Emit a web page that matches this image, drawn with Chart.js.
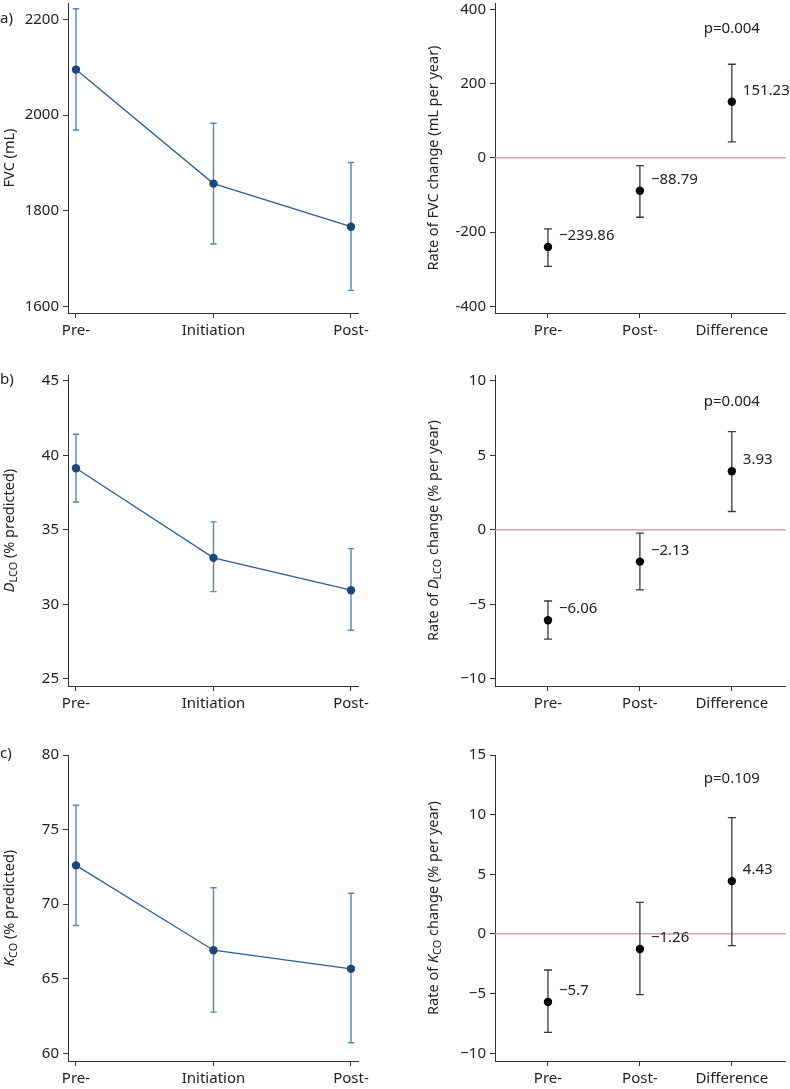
<!DOCTYPE html>
<html><head><meta charset="utf-8">
<script src="https://cdn.jsdelivr.net/npm/chart.js@4/dist/chart.umd.min.js"></script>
<style>
html,body{margin:0;padding:0;background:#fff;}
#wrap{position:relative;width:790px;height:1089px;overflow:hidden;}
canvas{position:absolute;}
</style></head><body>
<div id="wrap">
<canvas id="aL" width="395" height="362" style="left:0;top:-12px;width:395px;height:362px"></canvas>
<canvas id="aR" width="395" height="362" style="left:395px;top:-12px;width:395px;height:362px"></canvas>
<canvas id="bL" width="395" height="360" style="left:0;top:360px;width:395px;height:360px"></canvas>
<canvas id="bR" width="395" height="360" style="left:395px;top:360px;width:395px;height:360px"></canvas>
<canvas id="cL" width="395" height="369" style="left:0;top:720px;width:395px;height:369px"></canvas>
<canvas id="cR" width="395" height="369" style="left:395px;top:720px;width:395px;height:369px"></canvas>
</div>
<script>
// ---------- data ----------
const leftCategories = ['Pre-', 'Initiation', 'Post-'];
const rightCategories = ['Pre-', 'Post-', 'Difference'];

const fvcMean = [2095, 1857, 1767];
const fvcLow = [1969, 1731, 1634];
const fvcHigh = [2222, 1983, 1901];
const fvcRate = [-239.86, -88.79, 151.23];
const fvcRateLow = [-292, -160, 43];
const fvcRateHigh = [-191, -21, 252];
const fvcP = 'p=0.004';

const dlcoMean = [39.13, 33.12, 30.95];
const dlcoLow = [36.87, 30.86, 28.27];
const dlcoHigh = [41.41, 35.53, 33.74];
const dlcoRate = [-6.06, -2.13, 3.93];
const dlcoRateLow = [-7.33, -4.02, 1.23];
const dlcoRateHigh = [-4.77, -0.22, 6.59];
const dlcoP = 'p=0.004';

const kcoMean = [72.6, 66.91, 65.66];
const kcoLow = [68.57, 62.76, 60.7];
const kcoHigh = [76.63, 71.1, 70.73];
const kcoRate = [-5.7, -1.26, 4.43];
const kcoRateLow = [-8.25, -5.09, -0.98];
const kcoRateHigh = [-3.02, 2.65, 9.75];
const kcoP = 'p=0.109';

const fvcTicks = [1600, 1800, 2000, 2200];
const fvcRateTicks = [-400, -200, 0, 200, 400];
const dlcoTicks = [25, 30, 35, 40, 45];
const dlcoRateTicks = [-10, -5, 0, 5, 10];
const kcoTicks = [60, 65, 70, 75, 80];
const kcoRateTicks = [-10, -5, 0, 5, 10, 15];

// ---------- drawing ----------
const FONT = "'Noto Sans', 'DejaVu Sans', sans-serif";
const FS = 15;
const TXT = '#222';
const AXIS = '#333';
const minus = v => (v < 0 ? '\u2212' + Math.abs(v) : String(v));
const hyph = v => String(v);

function drawTitle(ctx, segs, x, cy, size) {
  ctx.save();
  const parts = segs.map(s => {
    const fs = s.sub ? size * 0.75 : size;
    const f = (s.italic ? 'italic ' : '') + fs + 'px ' + FONT;
    ctx.font = f;
    return { t: s.t, f, w: ctx.measureText(s.t).width, dy: s.sub ? size * 0.3 : 0 };
  });
  const total = parts.reduce((a, p) => a + p.w, 0);
  ctx.translate(x, cy);
  ctx.rotate(-Math.PI / 2);
  ctx.fillStyle = TXT;
  ctx.textBaseline = 'middle';
  ctx.textAlign = 'left';
  let px = -total / 2;
  parts.forEach(p => { ctx.font = p.f; ctx.fillText(p.t, px, p.dy); px += p.w; });
  ctx.restore();
}

function makePlugin(cfg) {
  return {
    id: 'panel_' + Math.random().toString(36).slice(2),
    beforeDatasetsDraw(chart) {
      const ctx = chart.ctx, xs = chart.scales.x, ys = chart.scales.y, ca = chart.chartArea;
      ctx.save();
      if (cfg.zero) {
        const y0 = ys.getPixelForValue(0);
        ctx.strokeStyle = '#cf8f9a';
        ctx.lineWidth = 1.2;
        ctx.beginPath(); ctx.moveTo(ca.left, y0); ctx.lineTo(ca.right, y0); ctx.stroke();
      }
      ctx.strokeStyle = cfg.errColor;
      ctx.lineWidth = cfg.errWidth;
      cfg.low.forEach((lo, i) => {
        const x = xs.getPixelForValue(i);
        const y1 = ys.getPixelForValue(lo), y2 = ys.getPixelForValue(cfg.high[i]);
        ctx.beginPath();
        ctx.moveTo(x, y1); ctx.lineTo(x, y2);
        ctx.moveTo(x - cfg.cap, y1); ctx.lineTo(x + cfg.cap, y1);
        ctx.moveTo(x - cfg.cap, y2); ctx.lineTo(x + cfg.cap, y2);
        ctx.stroke();
      });
      ctx.restore();
    },
    afterDatasetsDraw(chart) {
      const ctx = chart.ctx, xs = chart.scales.x, ys = chart.scales.y;
      ctx.save();
      ctx.fillStyle = TXT;
      ctx.font = FS + 'px ' + FONT;
      ctx.textBaseline = 'middle';
      if (cfg.valueLabels) {
        ctx.textAlign = 'left';
        cfg.values.forEach((v, i) => {
          ctx.fillText(minus(v), xs.getPixelForValue(i) + 11, ys.getPixelForValue(v) - 11);
        });
      }
      if (cfg.p) {
        ctx.textAlign = 'center';
        ctx.fillText(cfg.p, xs.getPixelForValue(2), ys.getPixelForValue(cfg.pY));
      }
      ctx.restore();
    },
    afterDraw(chart) {
      const ctx = chart.ctx;
      drawTitle(ctx, cfg.title, cfg.titleX, (chart.chartArea.top + chart.chartArea.bottom) / 2, 14.5);
      if (cfg.letter) {
        ctx.save();
        ctx.fillStyle = TXT; ctx.font = FS + 'px ' + FONT;
        ctx.textBaseline = 'middle'; ctx.textAlign = 'left';
        ctx.fillText(cfg.letter, 0, cfg.letterY);
        ctx.restore();
      }
    }
  };
}

function makeChart(id, cfg) {
  const canvas = document.getElementById(id);
  const W = canvas.width, H = canvas.height;
  const cats = cfg.cats;
  const points = cfg.values.map((v, i) => ({ x: i, y: v }));
  const left = cfg.kind === 'left';
  new Chart(canvas, {
    type: 'line',
    data: {
      datasets: [{
        data: points,
        showLine: left,
        borderColor: '#2b5f97',
        borderWidth: 1.3,
        pointRadius: 4.2,
        pointHoverRadius: 4.2,
        pointBackgroundColor: left ? '#1b4879' : '#000',
        pointBorderColor: left ? '#1b4879' : '#000',
        pointBorderWidth: 0,
        tension: 0,
        clip: false
      }]
    },
    options: {
      responsive: false,
      animation: false,
      events: [],
      layout: { padding: { left: 0, top: cfg.area.top, right: W - cfg.area.right, bottom: 0 } },
      plugins: { legend: { display: false }, tooltip: { enabled: false } },
      scales: {
        x: {
          type: 'linear',
          min: cfg.xmin, max: cfg.xmax,
          afterBuildTicks: s => { s.ticks = cats.map((c, i) => ({ value: i })); },
          afterFit: s => { s.height = H - cfg.area.bottom; },
          ticks: {
            callback: (v, i) => cats[i],
            color: TXT, font: { family: FONT, size: FS },
            padding: 4, autoSkip: false, maxRotation: 0
          },
          grid: { display: true, drawOnChartArea: false, drawTicks: true, tickLength: 5, color: AXIS, lineWidth: 1 },
          border: { display: true, color: AXIS, width: 1 }
        },
        y: {
          type: 'linear',
          min: cfg.ymin, max: cfg.ymax,
          afterBuildTicks: s => { s.ticks = cfg.ticks.map(v => ({ value: v })); },
          afterFit: s => { s.width = cfg.area.left; },
          ticks: {
            callback: v => cfg.fmt(v),
            color: TXT, font: { family: FONT, size: FS },
            padding: 4, autoSkip: false
          },
          grid: { display: true, drawOnChartArea: false, drawTicks: true, tickLength: 5, color: AXIS, lineWidth: 1 },
          border: { display: true, color: AXIS, width: 1 }
        }
      }
    },
    plugins: [makePlugin(cfg)]
  });
}

const leftX = { xmin: -0.058, xmax: 2.051 };
const rightX = { xmin: -0.576, xmax: 2.587 };
const leftErr = { errColor: '#5a86b6', errWidth: 1.4, cap: 3.2 };
const rightErr = { errColor: '#3a3a3a', errWidth: 1.3, cap: 4 };

makeChart('aL', Object.assign({
  kind: 'left', cats: leftCategories, values: fvcMean, low: fvcLow, high: fvcHigh,
  ticks: fvcTicks, fmt: hyph, ymin: 1586.8, ymax: 2234,
  area: { left: 68, right: 358, top: 15, bottom: 325 },
  title: [{ t: 'FVC (mL)' }], titleX: 10, letter: 'a)', letterY: 31
}, leftX, leftErr));

makeChart('aR', Object.assign({
  kind: 'right', cats: rightCategories, values: fvcRate, low: fvcRateLow, high: fvcRateHigh,
  ticks: fvcRateTicks, fmt: hyph, ymin: -417.8, ymax: 417,
  area: { left: 100, right: 391, top: 15, bottom: 325 },
  title: [{ t: 'Rate of FVC change (mL per year)' }], titleX: 39,
  zero: true, valueLabels: true, p: fvcP, pY: 347
}, rightX, rightErr));

makeChart('bL', Object.assign({
  kind: 'left', cats: leftCategories, values: dlcoMean, low: dlcoLow, high: dlcoHigh,
  ticks: dlcoTicks, fmt: hyph, ymin: 24.53, ymax: 45.38,
  area: { left: 68, right: 358, top: 15, bottom: 326 },
  title: [{ t: 'D', italic: true }, { t: 'LCO', sub: true }, { t: ' (% predicted)' }], titleX: 10,
  letter: 'b)', letterY: 20
}, leftX, leftErr));

makeChart('bR', Object.assign({
  kind: 'right', cats: rightCategories, values: dlcoRate, low: dlcoRateLow, high: dlcoRateHigh,
  ticks: dlcoRateTicks, fmt: minus, ymin: -10.47, ymax: 10.38,
  area: { left: 100, right: 391, top: 15, bottom: 326 },
  title: [{ t: 'Rate of ' }, { t: 'D', italic: true }, { t: 'LCO', sub: true }, { t: ' change (% per year)' }], titleX: 39,
  zero: true, valueLabels: true, p: dlcoP, pY: 8.58
}, rightX, rightErr));

makeChart('cL', Object.assign({
  kind: 'left', cats: leftCategories, values: kcoMean, low: kcoLow, high: kcoHigh,
  ticks: kcoTicks, fmt: hyph, ymin: 59.48, ymax: 80,
  area: { left: 68, right: 358, top: 35, bottom: 341 },
  title: [{ t: 'K', italic: true }, { t: 'CO', sub: true }, { t: ' (% predicted)' }], titleX: 10,
  letter: 'c)', letterY: 34
}, leftX, leftErr));

makeChart('cR', Object.assign({
  kind: 'right', cats: rightCategories, values: kcoRate, low: kcoRateLow, high: kcoRateHigh,
  ticks: kcoRateTicks, fmt: minus, ymin: -10.65, ymax: 15,
  area: { left: 100, right: 391, top: 35, bottom: 341 },
  title: [{ t: 'Rate of ' }, { t: 'K', italic: true }, { t: 'CO', sub: true }, { t: ' change (% per year)' }], titleX: 39,
  zero: true, valueLabels: true, p: kcoP, pY: 13.05
}, rightX, rightErr));
</script>
</body></html>
